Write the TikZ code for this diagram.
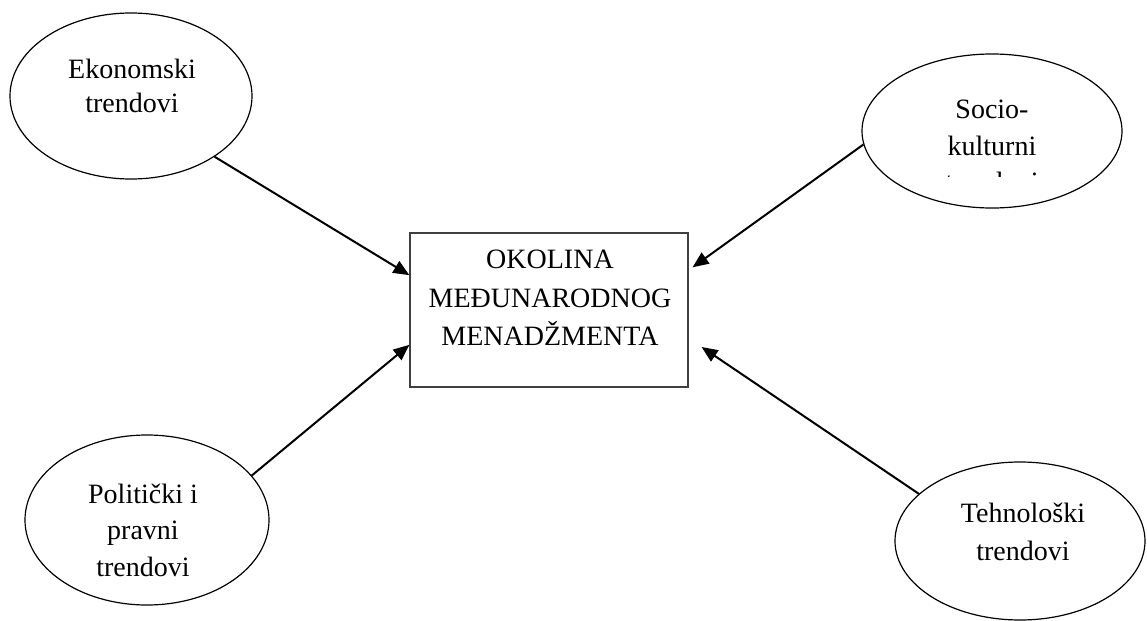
\documentclass[tikz,border=0pt]{standalone}
\usepackage{fontspec}
\setmainfont{Liberation Serif}
\usetikzlibrary{shapes.geometric,arrows.meta}
\begin{document}
\begin{tikzpicture}[x=0.75pt,y=-0.75pt,
  oval/.style={draw=black,line width=0.9pt,ellipse,inner sep=0pt},
  lbl/.style={align=center,inner sep=0pt,font=\fontsize{21}{27.5}\selectfont},
  mainbox/.style={draw=black!75,line width=0.9pt,rectangle,inner sep=0pt,
    minimum width=208.5pt,minimum height=115.5pt},
  conn/.style={line width=1.5pt,-{Triangle[length=12pt,width=10pt]}}]
\useasboundingbox (0,0) rectangle (1147,621);
\fill[white] (0,0) rectangle (1147,621);
% ellipses
\node[oval,minimum width=181.5pt,minimum height=124.5pt] (e1) at (131,96) {};
\node[oval,minimum width=195pt,minimum height=115.5pt] (e2) at (992,131) {};
\node[oval,minimum width=183pt,minimum height=127.5pt] (e3) at (147,520) {};
\node[oval,minimum width=187.5pt,minimum height=118.5pt] (e4) at (1020,541) {};
% central box
\node[mainbox] (box) at (549,310) {};
% texts
\node[lbl,font=\fontsize{21}{25.5}\selectfont] (t1) at (132,86) {Ekonomski\\trendovi};
\begin{scope}
\clip (860,50) rectangle (1130,176);
\node[lbl] (t2) at (992,146) {Socio-\\kulturni\\trendovi};
\end{scope}
\node[lbl,font=\fontsize{21}{27.4}\selectfont] (t3) at (143,530) {Politički i\\pravni\\trendovi};
\node[lbl,font=\fontsize{21}{28.5}\selectfont] (t4) at (1023,532) {Tehnološki\\trendovi};
\node[lbl,font=\fontsize{21}{29}\selectfont] (t5) at (550,298) {OKOLINA\\MEĐUNARODNOG\\MENADŽMENTA};
% connectors
\draw[conn] (e1.-36) -- (box.166);
\draw[conn] (e2.186) -- ([xshift=3pt]box.17);
\draw[conn] (e3.23) -- (box.194);
\draw[conn] (e4.155) -- ([shift={(13,37)}]box.east);
\end{tikzpicture}
\end{document}
